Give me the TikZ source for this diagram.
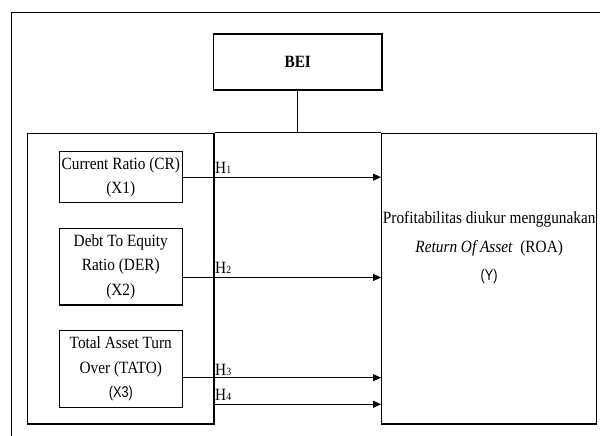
\documentclass[tikz,border=0pt]{standalone}
\usepackage{fontspec}
\setmainfont{Liberation Serif}[FakeStretch=0.89]
\newfontfamily\narrowsans{Liberation Sans}[FakeStretch=0.82]
\usetikzlibrary{arrows.meta}
\begin{document}
\begin{tikzpicture}[x=1pt,y=-1pt,
  box/.style={draw, line width=1.3pt, inner sep=0pt},
  xbox/.style={box, minimum width=123pt, align=center, font=\fontsize{17.2}{24.5}\selectfont},
  arr/.style={line width=0.8pt, -{Triangle[length=8pt,width=7pt]}},
  hlab/.style={anchor=base west, inner sep=0pt, font=\fontsize{17.2}{20}\selectfont},
  ytext/.style={anchor=base, inner sep=0pt, font=\fontsize{17.2}{20}\selectfont}]
\useasboundingbox (0,0) rectangle (600,436);
% outer frame (running off the page)
\draw[line width=1.3pt] (11.5,436) -- (11.5,12.7) -- (600,12.7);
% BEI
\node[box, minimum width=168.5pt, minimum height=56pt, font=\bfseries\fontsize{17.2}{20}\selectfont] (bei) at (297.75,62) {BEI};
% group and result boxes
\node[box, minimum width=186.7pt, minimum height=290.7pt] (grp) at (120.65,278.65) {};
\node[box, minimum width=215pt, minimum height=290.7pt] (roa) at (489.2,278.65) {};
\draw[line width=1.1pt] (grp.north east) -- (roa.north west);
\coordinate (j) at (bei.south |- grp.north);
\draw[line width=0.8pt] (bei.south) -- (j);
% variable boxes
\node[xbox, minimum height=51pt] (x1) at (120.8,177.2) {Current Ratio (CR)\\(X1)};
\node[xbox, minimum height=76.7pt] (x2) at (120.8,266.65) {Debt To Equity\\Ratio (DER)\\(X2)};
\node[xbox, minimum height=76.6pt] (x3) at (120.8,369) {Total Asset Turn\\Over (TATO)\\{\narrowsans\fontsize{15.5}{20}\selectfont (X3)}};
% result text
\node[ytext] (t1) at (489.2,223.3) {Profitabilitas diukur menggunakan};
\node[ytext] (t2) at (489.2,252.7) {\textit{Return Of Asset}\ \ (ROA)};
\node[ytext, font=\narrowsans\fontsize{15.5}{20}\selectfont] (t3) at (489.2,280) {(Y)};
% arrows
\coordinate (s1) at (x1.east);
\coordinate (s2) at ([yshift=-10.8pt]x2.east);
\coordinate (s3) at ([yshift=-8.7pt]x3.east);
\coordinate (s4) at ([yshift=-125.65pt]grp.east);
\draw[arr] (s1) -- (s1 -| roa.west);
\draw[arr] (s2) -- (s2 -| roa.west);
\draw[arr] (s3) -- (s3 -| roa.west);
\draw[arr] (s4) -- (s4 -| roa.west);
% hypothesis labels
\node[hlab] (h1) at (215,173) {H{\fontsize{11}{11}\selectfont 1}};
\node[hlab] (h2) at (215,273) {H{\fontsize{11}{11}\selectfont 2}};
\node[hlab] (h3) at (215,375) {H{\fontsize{11}{11}\selectfont 3}};
\node[hlab] (h4) at (215,400.5) {H{\fontsize{11}{11}\selectfont 4}};
\end{tikzpicture}
\end{document}
